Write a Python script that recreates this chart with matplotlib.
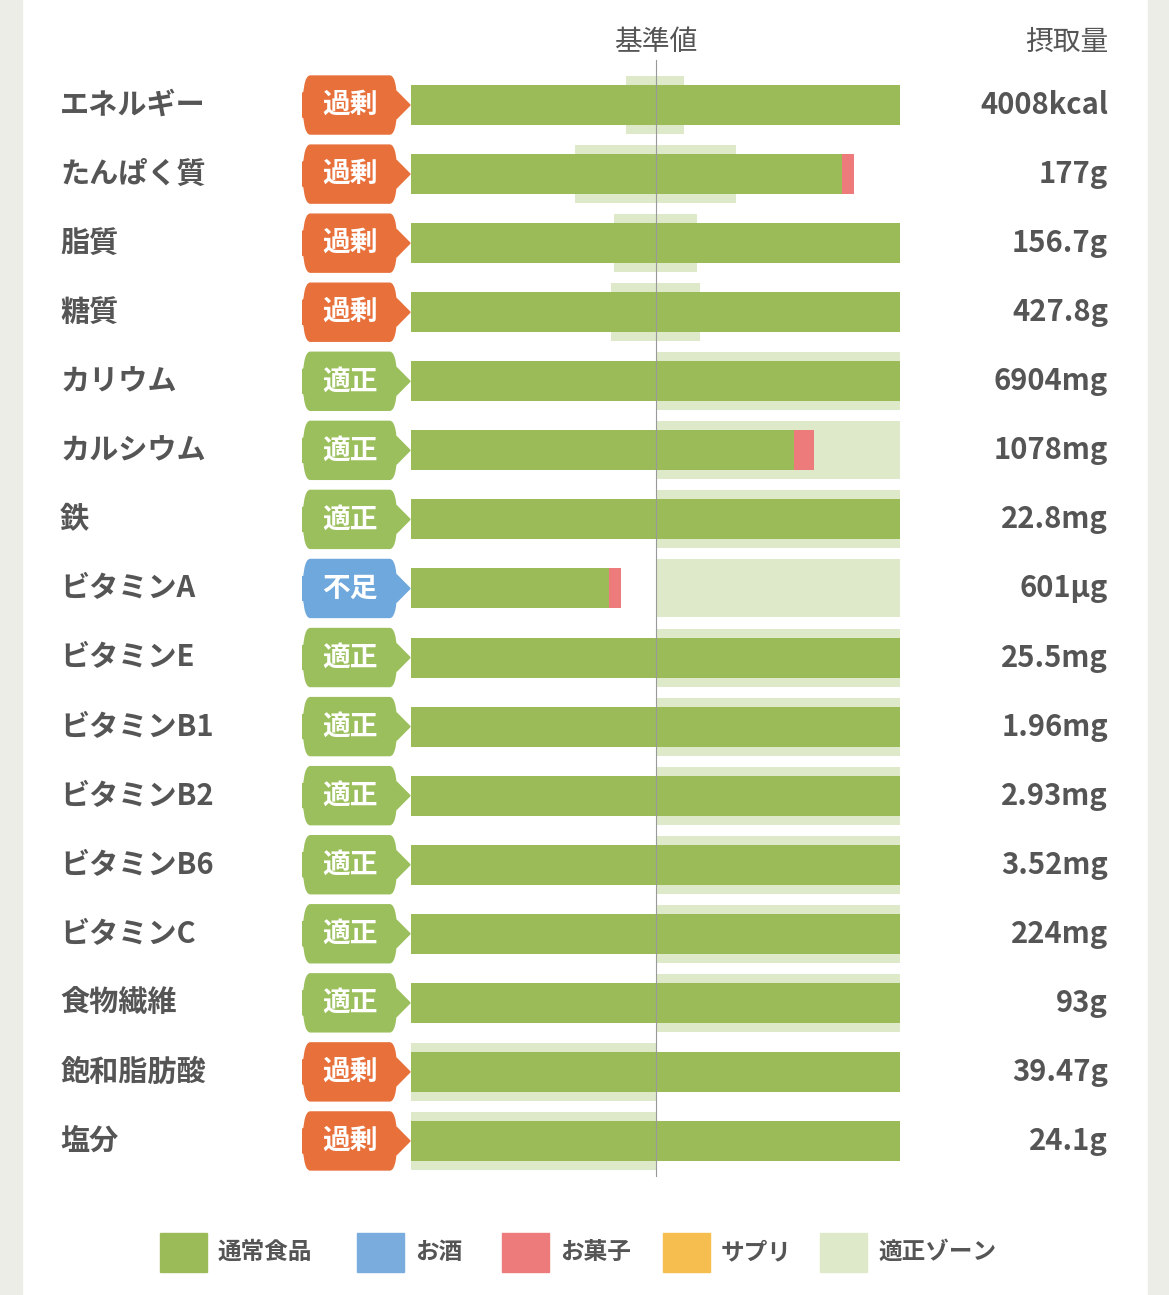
import matplotlib
matplotlib.use("Agg")
import matplotlib.pyplot as plt
from matplotlib.patches import FancyBboxPatch, Polygon, Rectangle

plt.rcParams['font.family'] = ['Noto Sans CJK JP', 'DejaVu Sans']

nutrients = ["エネルギー","たんぱく質","脂質","糖質","カリウム","カルシウム","鉄","ビタミンA",
             "ビタミンE","ビタミンB1","ビタミンB2","ビタミンB6","ビタミンC","食物繊維","飽和脂肪酸","塩分"]
status = ["過剰","過剰","過剰","過剰","適正","適正","適正","不足",
          "適正","適正","適正","適正","適正","適正","過剰","過剰"]
intake = ["4008kcal","177g","156.7g","427.8g","6904mg","1078mg","22.8mg","601µg",
          "25.5mg","1.96mg","2.93mg","3.52mg","224mg","93g","39.47g","24.1g"]
# ratio to reference value (capped at 2.0)
food = [2.0,1.763,2.0,2.0,2.0,1.567,2.0,0.808,2.0,2.0,2.0,2.0,2.0,2.0,2.0,2.0]
snack = [0,0.049,0,0,0,0.082,0,0.049,0,0,0,0,0,0,0,0]
zone_lo = [0.878,0.67,0.83,0.82,1,1,1,1,1,1,1,1,1,1,0,0]
zone_hi = [1.118,1.33,1.17,1.18,2,2,2,2,2,2,2,2,2,2,1,1]
legend_labels = ["通常食品","お酒","お菓子","サプリ","適正ゾーン"]

GREEN="#9BBB59"; ZONE="#DDE9C9"; RED="#EE7B7B"; BLUE="#7AADDE"; YEL="#F5BE4F"
badge_col = {"過剰":"#E8703A","適正":"#9BBF5C","不足":"#6FA8DC"}
TXT="#555555"

W,H=1169,1295
fig = plt.figure(figsize=(W/100,H/100),dpi=100)
fig.patches.append(Rectangle((0,0),22/W,1,transform=fig.transFigure,color="#EDEDE8"))
fig.patches.append(Rectangle((1148/W,0),21/W,1,transform=fig.transFigure,color="#EDEDE8"))

top,bot=70.5,1175.5
ax = fig.add_axes([411/W,1-bot/H,489/W,(bot-top)/H])
ax.set_xlim(0,2); ax.set_ylim(15.5,-0.5); ax.axis("off")
n=len(nutrients)
for i in range(n):
    ax.barh(i,zone_hi[i]-zone_lo[i],left=zone_lo[i],height=0.84,color=ZONE,zorder=1)
    ax.barh(i,food[i],height=0.58,color=GREEN,zorder=2)
    if snack[i]>0:
        ax.barh(i,snack[i],left=food[i],height=0.58,color=RED,zorder=2)
    ax.text(-1.435,i,nutrients[i],ha="left",va="center",fontsize=21,fontweight="bold",color=TXT)
    ax.text(2.851,i,intake[i],ha="right",va="center",fontsize=21,fontweight="bold",color=TXT)
    c=badge_col[status[i]]
    ax.add_patch(FancyBboxPatch((-0.442,i-0.42),0.385,0.84,boxstyle="round,pad=0,rounding_size=0.03",
                                color=c,clip_on=False,zorder=3,mutation_aspect=1/0.05))
    ax.add_patch(Polygon([(-0.06,i-0.2),(-0.004,i),(-0.06,i+0.2)],color=c,clip_on=False,zorder=3))
    ax.text(-0.25,i,status[i],ha="center",va="center",fontsize=20,fontweight="bold",color="white",zorder=4)
ax.plot([1,1],[-0.65,15.5],color="#999999",lw=0.8,zorder=5,clip_on=False)
fig.text(656/W,1-42/H,"基準値",ha="center",va="center",fontsize=20,color=TXT)
fig.text(1108/W,1-42/H,"摂取量",ha="right",va="center",fontsize=20,color=TXT)

lx=[160,357,502,663,820]
cols=[GREEN,BLUE,RED,YEL,ZONE]
for x,c,l in zip(lx,cols,legend_labels):
    fig.patches.append(Rectangle((x/W,1-1272/H),47/W,39/H,transform=fig.transFigure,color=c))
    fig.text((x+58)/W,1-1252/H,l,ha="left",va="center",fontsize=17,fontweight="bold",color=TXT)
fig.savefig("out.png",dpi=100,facecolor="white")
